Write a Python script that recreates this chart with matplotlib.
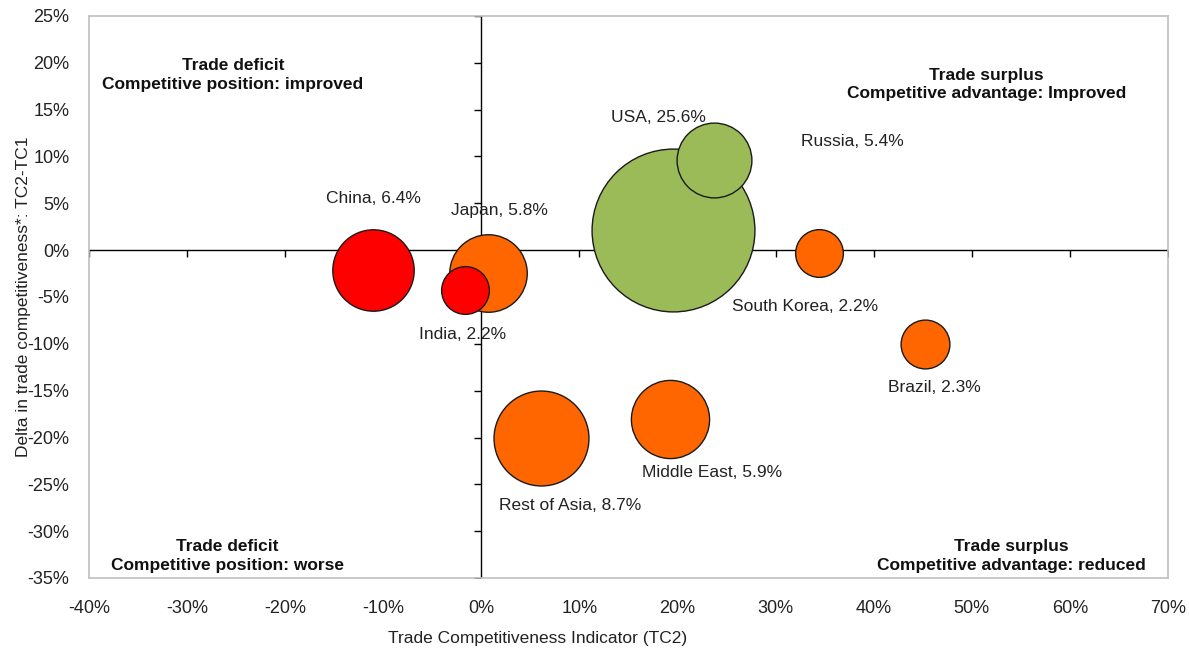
import matplotlib
matplotlib.use("Agg")
import matplotlib.pyplot as plt
from matplotlib.ticker import FuncFormatter

plt.rcParams['font.family'] = ['Liberation Sans', 'DejaVu Sans']

# data: TC2 (x), delta TC2-TC1 (y), share of trade (bubble size)
regions = ["USA", "Rest of Asia", "China", "Middle East", "Japan",
           "Russia", "Brazil", "India", "South Korea"]
tc2 = [19.5, 6.1, -11.0, 19.2, 0.7, 23.7, 45.2, -1.7, 34.4]
delta = [2.1, -20.0, -2.1, -18.0, -2.4, 9.6, -10.0, -4.3, -0.3]
share = [25.6, 8.7, 6.4, 5.9, 5.8, 5.4, 2.3, 2.2, 2.2]
group = ["up", "down", "deficit", "down", "down", "up", "down", "deficit", "down"]

colors = {"up": "#9BBB59", "down": "#FF6600", "deficit": "#FF0000"}
# label offsets in pixels from bubble centre
offsets = {"USA": (-14, 113), "Rest of Asia": (29, -68), "China": (0, 71),
           "Middle East": (42, -54), "Japan": (11, 62), "Russia": (139, 19),
           "Brazil": (10, -44), "India": (-2, -44), "South Korea": (-14, -54)}

fig = plt.figure(figsize=(11.89, 6.52), dpi=100)
ax = fig.add_axes([89/1189, 74/652, 1079/1189, 562/652])

ax.set_xlim(-40, 70)
ax.set_ylim(-35, 25)

# bubbles, largest first (drawn underneath)
for i in range(len(regions)):
    ax.scatter(tc2[i], delta[i], s=537*share[i], color=colors[group[i]],
               edgecolor="#1a1a1a", linewidth=1.0, zorder=3+i)
    ax.annotate(f"{regions[i]}, {share[i]:.1f}%", (tc2[i], delta[i]),
                xytext=offsets[regions[i]], textcoords="offset pixels",
                ha="center", va="center", fontsize=12.5, color="#222222",
                zorder=20)

# axes crossing at zero
ax.axhline(0, color="black", lw=1.0, zorder=2)
ax.axvline(0, color="black", lw=1.0, zorder=2)
xt = list(range(-40, 71, 10))
yt = list(range(-35, 26, 5))
ax.plot(xt, [0]*len(xt), ls="none", marker=3, ms=5, mew=1.0, color="black", zorder=2)
ax.plot([0]*len(yt), yt, ls="none", marker=0, ms=5, mew=1.0, color="black", zorder=2)

ax.set_xticks(xt)
ax.set_yticks(yt)
pct = FuncFormatter(lambda v, p: f"{v:.0f}%")
ax.xaxis.set_major_formatter(pct)
ax.yaxis.set_major_formatter(pct)
ax.tick_params(axis="x", length=0, pad=16, labelsize=13, colors="#222222")
ax.tick_params(axis="y", length=0, pad=14, labelsize=13, colors="#222222")

for sp in ax.spines.values():
    sp.set_color("#BFBFBF")
    sp.set_linewidth(1.2)

ax.set_xlabel("Trade Competitiveness Indicator (TC2)", fontsize=12.5, color="#222222")
ax.set_ylabel("Delta in trade competitiveness*: TC2-TC1", fontsize=12.5, color="#222222")
ax.xaxis.set_label_coords(0.416, -0.094)
ax.yaxis.set_label_coords(-0.054, 0.5)

# quadrant notes
qkw = dict(transform=ax.transAxes, ha="center", va="center", fontsize=12.5,
           fontweight="bold", color="#111111", linespacing=1.3)
ax.text(0.1335, 0.895, "Trade deficit\nCompetitive position: improved", **qkw)
ax.text(0.832, 0.878, "Trade surplus\nCompetitive advantage: Improved", **qkw)
ax.text(0.128, 0.039, "Trade deficit\nCompetitive position: worse", **qkw)
ax.text(0.8545, 0.039, "Trade surplus\nCompetitive advantage: reduced", **qkw)

fig.savefig("out.png", dpi=100)
